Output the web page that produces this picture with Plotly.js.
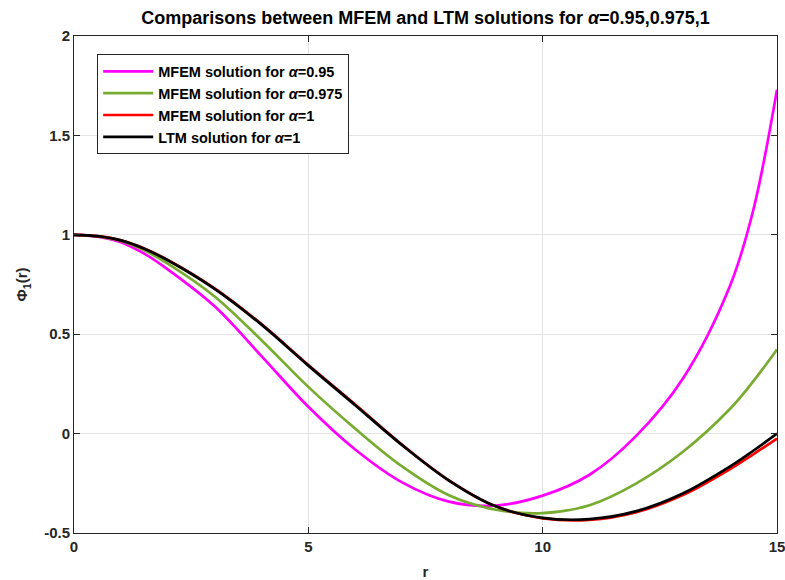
<!DOCTYPE html>
<html>
<head>
<meta charset="utf-8">
<script src="https://cdn.plot.ly/plotly-3.0.1.min.js"></script>
<style>html,body{margin:0;padding:0;background:#fff;}#chart{width:785px;height:580px;}</style>
</head>
<body>
<div id="chart"></div>
<script>
const r        = [0, 0.5, 1, 1.5, 2, 3, 4, 5, 6, 7, 8, 9, 10, 11, 12, 13, 14, 14.5, 15];
const mfem095  = [1.0, 0.991, 0.963, 0.905, 0.826, 0.64, 0.39, 0.135, -0.08, -0.245, -0.342, -0.362, -0.312, -0.207, -0.01, 0.28, 0.745, 1.13, 1.73];
const mfem0975 = [1.0, 0.992, 0.969, 0.922, 0.855, 0.69, 0.47, 0.235, 0.025, -0.165, -0.31, -0.383, -0.40, -0.36, -0.25, -0.09, 0.125, 0.265, 0.423];
const mfem1    = [1.0, 0.993, 0.972, 0.931, 0.874, 0.731, 0.551, 0.345, 0.146, -0.056, -0.235, -0.366, -0.426, -0.434, -0.395, -0.308, -0.178, -0.103, -0.025];
const ltm1     = [1.0, 0.993, 0.972, 0.93, 0.872, 0.728, 0.548, 0.342, 0.143, -0.058, -0.236, -0.366, -0.424, -0.43, -0.39, -0.30, -0.165, -0.085, 0.0];
const names = ['MFEM solution for <i>α</i>=0.95', 'MFEM solution for <i>α</i>=0.975', 'MFEM solution for <i>α</i>=1', 'LTM solution for <i>α</i>=1'];
const colors = ['#ff00ff', '#77ac30', '#ff0000', '#000000'];
const series = [mfem095, mfem0975, mfem1, ltm1];

const traces = series.map((s, i) => ({
  x: r, y: s, type: 'scatter', mode: 'lines', name: names[i],
  line: {color: colors[i], width: 2.7, shape: 'spline', smoothing: 1}
}));

const fam = '"Liberation Sans", Arial, Helvetica, sans-serif';
const axcol = '#262626';
const layout = {
  width: 785, height: 580,
  margin: {l: 74, r: 8, t: 36, b: 47},
  paper_bgcolor: '#fff', plot_bgcolor: '#fff',
  font: {family: fam, size: 14, color: axcol, weight: 'bold'},
  title: {text: 'Comparisons between MFEM and LTM solutions for <i>α</i>=0.95,0.975,1', x: 0.542, xanchor: 'center', y: 0.969, yanchor: 'middle',
          font: {family: fam, size: 18, color: '#000', weight: 'bold'}},
  xaxis: {range: [0, 15], tickvals: [0, 5, 10, 15], ticks: 'inside', ticklen: 6, tickcolor: axcol, showline: true, mirror: 'ticks', linecolor: axcol, linewidth: 1,
          showgrid: true, gridcolor: '#e3e3e3', gridwidth: 1, zeroline: false, ticklabeloverflow: 'allow',
          tickfont: {family: fam, size: 15, color: axcol, weight: 'bold'},
          title: {text: 'r', standoff: 14, font: {family: fam, size: 15, color: axcol, weight: 'bold'}}},
  yaxis: {range: [-0.5, 2], tickvals: [-0.5, 0, 0.5, 1, 1.5, 2], ticktext: ['-0.5', '0', '0.5', '1', '1.5', '2'], ticks: 'inside', ticklen: 6, tickcolor: axcol,
          showline: true, mirror: 'ticks', linecolor: axcol, linewidth: 1, ticklabeloverflow: 'allow',
          showgrid: true, gridcolor: '#e3e3e3', gridwidth: 1, zeroline: false, tickfont: {family: fam, size: 15, color: axcol, weight: 'bold'},
          title: {text: 'Φ<sub>1</sub>(r)', standoff: 12, font: {family: fam, size: 15, color: axcol, weight: 'bold'}}},
  legend: {x: 0.033, y: 0.963, xanchor: 'left', yanchor: 'top', bgcolor: '#fff', bordercolor: '#262626', borderwidth: 1,
           font: {family: fam, size: 14.5, color: '#000', weight: 'bold'}, itemwidth: 50, tracegroupgap: 0},
  showlegend: true
};
Plotly.newPlot('chart', traces, layout, {staticPlot: true, displayModeBar: false});
</script>
</body>
</html>
